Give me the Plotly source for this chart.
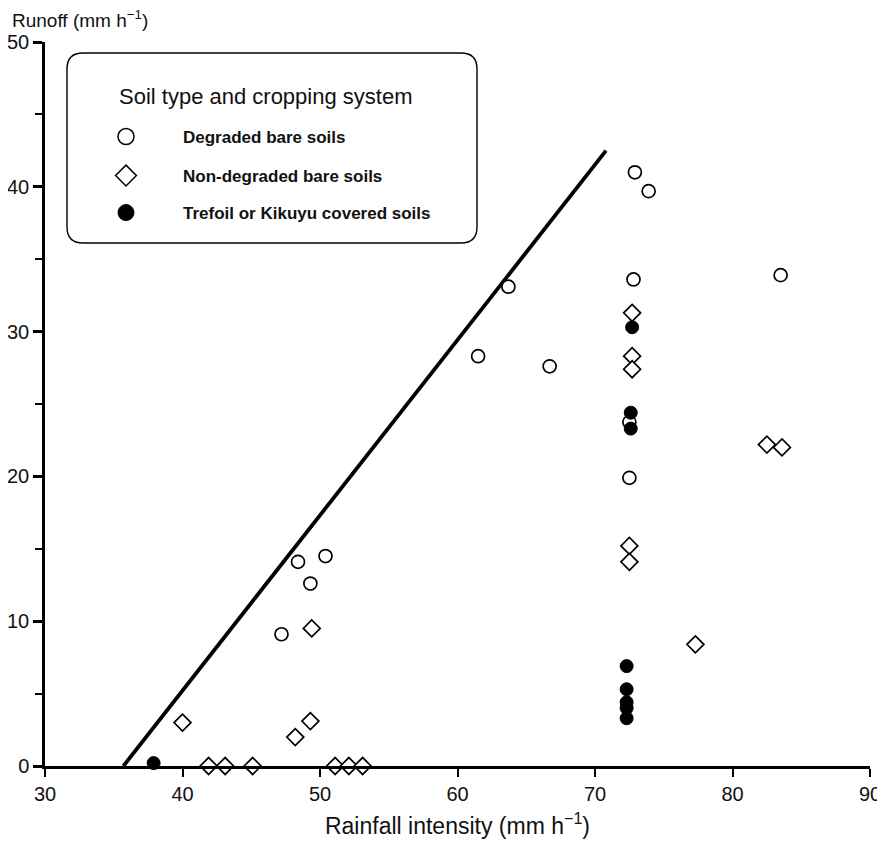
import plotly.graph_objects as go

# ---- data ----
degraded_x = [72.9, 73.9, 72.8, 83.5, 72.5, 72.5, 48.4, 50.4, 49.3, 47.2, 63.7, 61.5, 66.7]
degraded_y = [41.0, 39.7, 33.6, 33.9, 19.9, 23.75, 14.1, 14.5, 12.6, 9.1, 33.1, 28.3, 27.6]

nondeg_x = [41.9, 43.1, 45.1, 51.1, 52.1, 53.1, 40.0, 49.4, 49.3, 48.2,
            72.7, 72.7, 72.7, 72.5, 72.5, 77.3, 82.5, 83.6]
nondeg_y = [0.0, 0.0, 0.0, 0.0, 0.0, 0.0, 3.0, 9.5, 3.1, 2.0,
            31.3, 28.3, 27.4, 15.2, 14.1, 8.4, 22.2, 22.0]

covered_x = [37.9, 72.7, 72.6, 72.6, 72.3, 72.3, 72.3, 72.3, 72.3]
covered_y = [0.2, 30.3, 24.4, 23.3, 6.9, 5.3, 4.4, 4.0, 3.3]

line_x = [35.7, 70.8]
line_y = [0.0, 42.5]

x_ticks = [30, 40, 50, 60, 70, 80, 90]
y_ticks = [0, 10, 20, 30, 40, 50]

names = ["Degraded bare soils", "Non-degraded bare soils", "Trefoil or Kikuyu covered soils"]

# ---- geometry (page pixels; page body has an 8px margin) ----
OFF = 8
FW, FH = 877, 843
L, R, T, B = 45, 870, 42, 766          # plot area in page pixels
def xp(px):
    return (px - L) / (R - L)
def yp(py):
    return (B - py) / (B - T)

FONT = "Liberation Sans, Arial, Helvetica, sans-serif"
fig = go.Figure()

fig.add_trace(go.Scatter(x=line_x, y=line_y, mode="lines",
                         line=dict(color="black", width=3.8), showlegend=False, hoverinfo="skip"))

fig.add_trace(go.Scatter(x=degraded_x, y=degraded_y, mode="markers", showlegend=False,
                         marker=dict(symbol="circle", size=13, color="white",
                                     line=dict(color="black", width=1.7))))
fig.add_trace(go.Scatter(x=nondeg_x, y=nondeg_y, mode="markers", showlegend=False,
                         marker=dict(symbol="diamond", size=13, color="white",
                                     line=dict(color="black", width=1.7))))
fig.add_trace(go.Scatter(x=covered_x, y=covered_y, mode="markers", showlegend=False,
                         marker=dict(symbol="circle", size=13, color="black",
                                     line=dict(color="black", width=1))))

# legend-only entries (larger symbols)
leg_styles = [
    dict(symbol="circle", size=16, color="white", line=dict(color="black", width=1.5)),
    dict(symbol="diamond", size=16, color="white", line=dict(color="black", width=1.5)),
    dict(symbol="circle", size=16, color="black", line=dict(color="black", width=1)),
]
leg_ids = ["legend", "legend2", "legend3"]
for nm, st, lid in zip(names, leg_styles, leg_ids):
    fig.add_trace(go.Scatter(x=[None], y=[None], mode="markers", name=nm,
                             marker=st, legend=lid, showlegend=True))

leg_rows = [137, 176, 213]
IW = 104
leg_x = 127 - (IW / 2 + 6)
leg_common = dict(xanchor="left", yanchor="middle", bgcolor="rgba(0,0,0,0)",
                  borderwidth=0, itemwidth=IW,
                  font=dict(family=FONT, size=17, color="#111", weight="bold"))
fig.update_layout(
    legend=dict(x=xp(leg_x), y=yp(leg_rows[0]), **leg_common),
    legend2=dict(x=xp(leg_x), y=yp(leg_rows[1]), **leg_common),
    legend3=dict(x=xp(leg_x), y=yp(leg_rows[2]), **leg_common),
)

# rounded legend box
x0, x1 = xp(67), xp(477)
y0, y1 = yp(243), yp(53)
rx, ry = 16 / (R - L), 16 / (B - T)
path = (f"M {x0+rx},{y1} L {x1-rx},{y1} Q {x1},{y1} {x1},{y1-ry} "
        f"L {x1},{y0+ry} Q {x1},{y0} {x1-rx},{y0} L {x0+rx},{y0} "
        f"Q {x0},{y0} {x0},{y0+ry} L {x0},{y1-ry} Q {x0},{y1} {x0+rx},{y1} Z")
fig.add_shape(type="path", path=path, xref="paper", yref="paper",
              line=dict(color="black", width=1.4), fillcolor="white", layer="below")

fig.add_annotation(text="Soil type and cropping system", xref="paper", yref="paper",
                   x=xp(117), y=yp(97), xanchor="left", yanchor="middle", showarrow=False,
                   font=dict(family=FONT, size=22, color="#111"))

fig.add_annotation(text="Runoff (mm h<sup>\u22121</sup>)", xref="paper", yref="paper",
                   x=xp(10), y=yp(33), xanchor="left", yanchor="bottom", showarrow=False,
                   font=dict(family=FONT, size=19, color="#111"))

fig.update_layout(
    width=FW, height=FH,
    margin=dict(l=L - OFF, r=FW + OFF - R, t=T - OFF, b=FH + OFF - B),
    plot_bgcolor="white", paper_bgcolor="white",
    font=dict(family=FONT, size=20, color="#111"),
    xaxis=dict(range=[30, 90], tickvals=x_ticks, showgrid=False, zeroline=False,
               showline=True, linecolor="black", linewidth=3, automargin=False,
               ticklabeloverflow="allow",
               ticks="outside", ticklen=8, tickwidth=2, tickcolor="black",
               tickfont=dict(size=20),
               title=dict(text="Rainfall intensity (mm h<sup>\u22121</sup>)",
                          font=dict(size=23), standoff=14)),
    yaxis=dict(range=[0, 50], tickvals=y_ticks, showgrid=False, zeroline=False,
               showline=True, linecolor="black", linewidth=2.5, automargin=False,
               ticklabeloverflow="allow",
               ticks="outside", ticklen=9, tickwidth=2.5, tickcolor="black",
               tickfont=dict(size=20),
               minor=dict(tickvals=[5, 15, 25, 35, 45], ticks="outside", ticklen=7,
                          tickwidth=2, tickcolor="black")),
)
fig.update_traces(cliponaxis=False, selector=dict(mode="markers"))

fig.write_html("out.html")
